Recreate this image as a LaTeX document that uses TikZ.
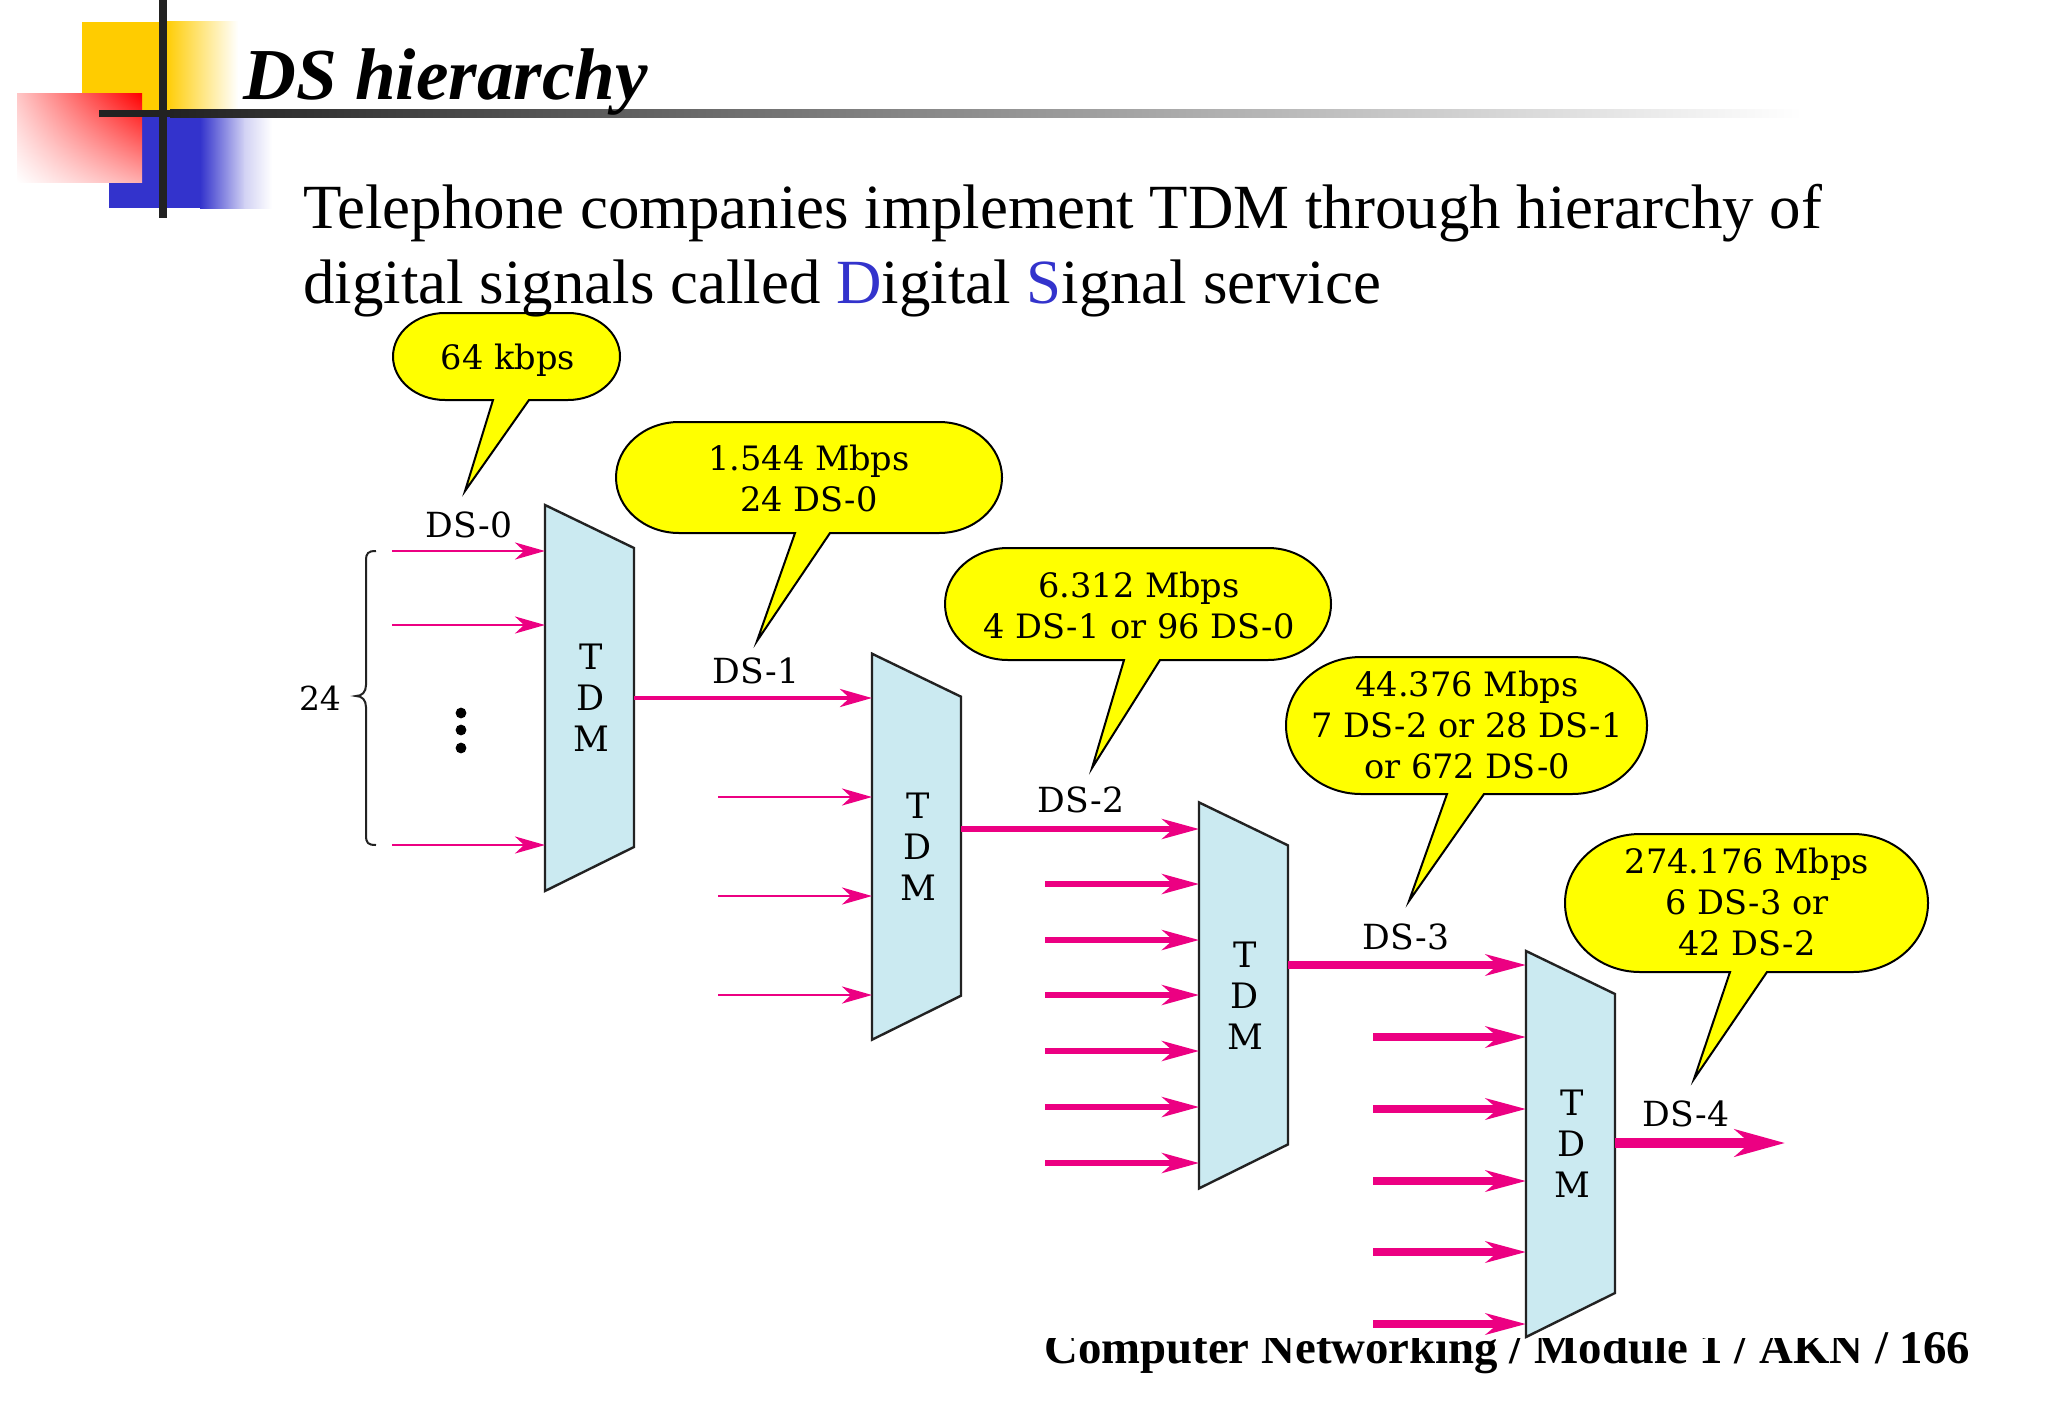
\documentclass[tikz,border=0pt]{standalone}
\usepackage{fontspec}
\setmainfont{Liberation Serif}
\newfontfamily\diafont{DejaVu Serif}
\usetikzlibrary{arrows.meta,shadings}
\definecolor{pinkline}{RGB}{236,0,130}
\definecolor{tdmfill}{RGB}{203,234,241}
\definecolor{bubfill}{RGB}{255,255,0}
\definecolor{logoyellow}{RGB}{255,204,0}
\definecolor{logoblue}{RGB}{51,51,204}
\definecolor{barcol}{RGB}{34,34,34}
\definecolor{sigblue}{RGB}{51,51,204}
\tikzset{
  x=0.5pt,y=-0.5pt,
  lbl/.style={inner sep=0pt,anchor=base,font=\diafont\fontsize{17.3}{20.5}\selectfont},
  numlbl/.style={inner sep=0pt,anchor=base,font=\diafont\fontsize{16.5}{20.5}\selectfont},
  multi/.style={inner sep=0pt,align=center,font=\diafont\fontsize{16.8}{20.5}\selectfont},
  tdmtxt/.style={inner sep=0pt,align=center,font=\diafont\fontsize{17.5}{20.5}\selectfont},
  tdmbox/.style={draw=barcol,line width=1.2pt,fill=tdmfill,line join=miter},
  bubble/.style={draw=black,line width=1pt,fill=bubfill,line join=miter},
  parr/.style n args={3}{draw=pinkline,line width=#1,-{Stealth[length=#2,width=#3,inset=0.3*#2]}},
  arrA/.style={parr={1.4pt}{15pt}{8.5pt}},
  arrB/.style={parr={2.1pt}{16pt}{9pt}},
  arrC/.style={parr={2.7pt}{18.5pt}{10pt}},
  arrD/.style={parr={3.6pt}{20pt}{10.5pt}},
  arrE/.style={parr={5pt}{25pt}{13.5pt}},
  titletxt/.style={inner sep=0pt,anchor=base west,font=\bfseries\itshape\fontsize{36.6}{40}\selectfont},
  bodytxt/.style={inner sep=0pt,anchor=base west,font=\fontsize{31.45}{36}\selectfont},
  foottxt/.style={inner sep=0pt,anchor=base west,font=\bfseries\fontsize{23.4}{26}\selectfont},
}
% name, x offset, y offset, output y
\newcommand{\tdmunit}[4]{%
  \draw[tdmbox] (545+#2,505+#3) -- (634+#2,548+#3) -- (634+#2,847+#3) -- (545+#2,891+#3) -- cycle;
  \node[tdmtxt] (#1) at (591+#2,698+#3) {T\\D\\M};
  \coordinate (#1out) at (634+#2,#4);
}
% name x1 y1 x2 y2 rx tx1 tx2 tip
\newcommand{\bubbleshape}[9]{%
  \draw[bubble] (#8,#5) -- (#4-#6,#5)
    .. controls (#4-0.448*#6,#5) and (#4,#5-0.224*#5+0.224*#3) .. (#4,0.5*#5+0.5*#3)
    .. controls (#4,#3+0.224*#5-0.224*#3) and (#4-0.448*#6,#3) .. (#4-#6,#3)
    -- (#2+#6,#3)
    .. controls (#2+0.448*#6,#3) and (#2,#3+0.224*#5-0.224*#3) .. (#2,0.5*#5+0.5*#3)
    .. controls (#2,#5-0.224*#5+0.224*#3) and (#2+0.448*#6,#5) .. (#2+#6,#5)
    -- (#7,#5) -- (#9) -- cycle;
}
\begin{document}
\begin{tikzpicture}
\useasboundingbox (0,0) rectangle (2048,1418);
\fill[white] (0,0) rectangle (2048,1418);

% logo
\fill[logoyellow] (82,22) rectangle (165,114);
\shade[left color=logoyellow,right color=white] (165,22) rectangle (238,114);
\fill[logoblue] (109,114) rectangle (200,208);
\shade[left color=logoblue,right color=logoblue!22] (200,114) rectangle (245,208);
\shade[left color=logoblue!22,right color=white] (244.5,114) rectangle (272,208);
\shade[upper left=red!22,upper right=red,lower left=white,lower right=red!32] (17,94) rectangle (142,182);
\fill[barcol] (159,0) rectangle (166.5,218);
\fill[barcol] (99,110) rectangle (170,117);
\shade[left color=barcol,right color=white] (170,110) rectangle (1802,117);

% footer, partly covered by the figure
\node[foottxt] (footer) at (1044,1363) {Computer Networking / Module 1 / AKN / 166};
\fill[white] (1030,1315) rectangle (1882,1338);

% TDM units
\tdmunit{tdmA}{0}{0}{698}
\tdmunit{tdmB}{327}{148.7}{829}
\tdmunit{tdmC}{654}{297.4}{965}
\tdmunit{tdmD}{981}{446}{1143}

% arrows
\foreach \n/\yy in {a/551,b/625,c/845}{
  \coordinate (sA\n) at (392,\yy); \coordinate (eA\n) at (545,\yy);
  \draw[arrA] (sA\n) -- (eA\n);
}
\coordinate (eBtop) at (872,698);
\draw[arrB] (tdmAout) -- (eBtop);
\foreach \n/\yy in {a/797,b/896,c/995}{
  \coordinate (sB\n) at (718,\yy); \coordinate (eB\n) at (872,\yy);
  \draw[arrA] (sB\n) -- (eB\n);
}
\coordinate (eCtop) at (1199,829);
\draw[arrC] (tdmBout) -- (eCtop);
\foreach \n/\yy in {a/884,b/940,c/995,d/1051,e/1107,f/1163}{
  \coordinate (sC\n) at (1045,\yy); \coordinate (eC\n) at (1199,\yy);
  \draw[arrC] (sC\n) -- (eC\n);
}
\coordinate (eDtop) at (1526,965);
\draw[arrD] (tdmCout) -- (eDtop);
\foreach \n/\yy in {a/1037,b/1109,c/1181,d/1252,e/1324}{
  \coordinate (sD\n) at (1373,\yy); \coordinate (eD\n) at (1526,\yy);
  \draw[arrD] (sD\n) -- (eD\n);
}
\coordinate (endE) at (1785,1143);
\draw[arrE] (tdmDout) -- (endE);

% brace and dots
\draw[barcol,line width=1pt] (376,551) .. controls (368,551) and (366,553) .. (366,561) -- (366,685) .. controls (366,692) and (362,696) .. (356,696) .. controls (362,696) and (366,700) .. (366,707) -- (366,835) .. controls (366,843) and (368,845) .. (376,845);
\foreach \yy in {713,730,748}{\fill[black] (461,\yy) circle (2.7pt);}
\node[numlbl] (n24) at (320,710) {24};

% labels
\node[lbl] (ds0) at (469,537) {DS-0};
\node[lbl] (ds1) at (756,683) {DS-1};
\node[lbl] (ds2) at (1081,812) {DS-2};
\node[lbl] (ds3) at (1406,949) {DS-3};
\node[lbl] (ds4) at (1686,1126) {DS-4};

% bubbles
\coordinate (tipA) at (465,491);
\coordinate (tipB) at (757,641);
\coordinate (tipC) at (1092,768);
\coordinate (tipD) at (1409,901);
\coordinate (tipE) at (1694,1079);
\bubbleshape{bA}{393}{313}{620}{400}{52}{493}{529}{tipA}
\bubbleshape{bB}{616}{422}{1002}{533}{63}{795}{830}{tipB}
\bubbleshape{bC}{945}{548}{1331}{660}{63}{1124}{1160}{tipC}
\bubbleshape{bD}{1286}{657}{1647}{794}{75}{1447}{1484}{tipD}
\bubbleshape{bE}{1565}{834}{1928}{972}{75}{1730}{1767}{tipE}
\node[multi] (tA) at (508,360) {64 kbps};
\node[multi] (tB) at (809,478) {1.544 Mbps\\24 DS-0};
\node[multi] (tC) at (1139,605) {6.312 Mbps\\4 DS-1 or 96 DS-0};
\node[multi] (tD) at (1467,725) {44.376 Mbps\\7 DS-2 or 28 DS-1\\or 672 DS-0};
\node[multi] (tE) at (1747,902) {274.176 Mbps\\6 DS-3 or\\42 DS-2};

% title and body
\node[titletxt] (title) at (243,99) {DS hierarchy};
\node[bodytxt] (bodyA) at (303,228) {Telephone companies implement TDM through hierarchy of};
\node[bodytxt] (bodyB) at (303,303) {digital signals called {\color{sigblue}D}igital {\color{sigblue}S}ignal service};
\end{tikzpicture}
\end{document}
